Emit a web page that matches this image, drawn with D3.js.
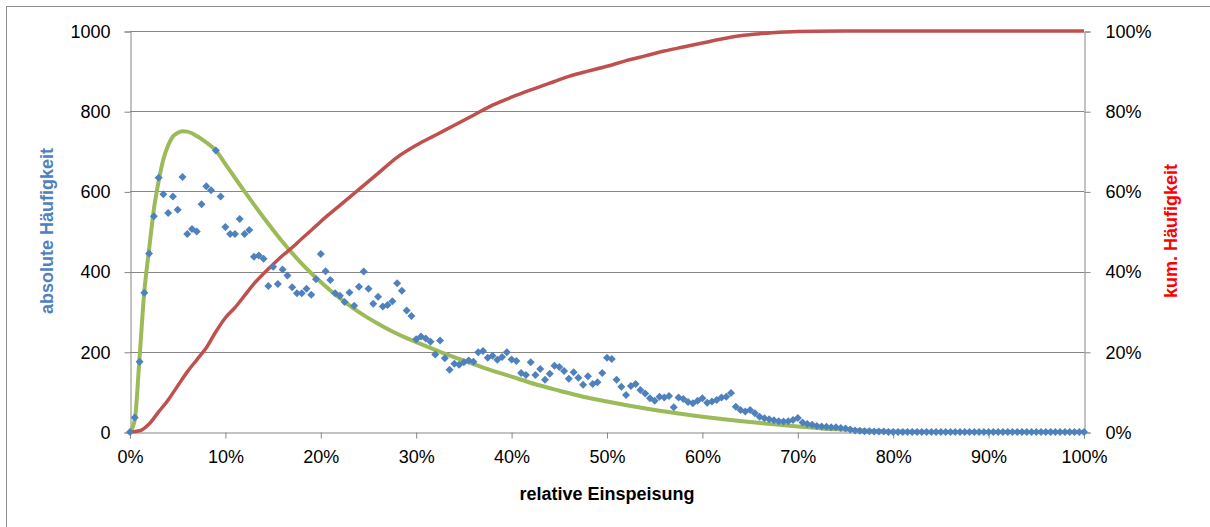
<!doctype html>
<html lang="de">
<head>
  <meta charset="UTF-8">
  <title>relative Einspeisung</title>
  <script src="https://cdn.jsdelivr.net/npm/d3@7"></script>
  <style>
    body { margin: 0; background: #fff; }
    text { font-family: "Liberation Sans", Arial, sans-serif; }
  </style>
</head>
<body>
<div id="container"></div>
<script type="text/javascript">
// scatter: absolute counts, one value per 0.5% step of relative feed-in (0% .. 100%)
var scatterStep = 0.5;
var absCounts = [
  0, 36, 175, 347, 445, 538, 634, 593, 546, 587,
  554, 636, 494, 506, 500, 568, 613, 603, 702, 587,
  511, 494, 494, 531, 494, 504, 437, 440, 432, 364,
  412, 369, 405, 390, 361, 346, 346, 357, 342, 381,
  444, 401, 379, 346, 340, 324, 348, 315, 362, 400,
  357, 320, 337, 313, 317, 326, 371, 352, 303, 289,
  231, 238, 233, 225, 193, 228, 184, 155, 170, 168,
  174, 178, 175, 199, 202, 185, 190, 180, 187, 199,
  181, 177, 147, 142, 174, 142, 157, 130, 145, 165,
  162, 152, 133, 149, 135, 118, 139, 120, 124, 147,
  185, 182, 130, 113, 92, 115, 120, 105, 96, 84,
  78, 88, 86, 90, 62, 86, 82, 75, 72, 78,
  84, 73, 76, 80, 86, 88, 97, 63, 55, 51,
  55, 47, 38, 34, 32, 29, 27, 26, 27, 30,
  35, 24, 20, 18, 15, 14, 13, 12, 12, 10,
  9, 6, 4, 3, 2, 2, 1, 1, 1, 0,
  0, 0, 0, 0, 0, 0, 0, 0, 0, 0,
  0, 0, 0, 0, 0, 0, 0, 0, 0, 0,
  0, 0, 0, 0, 0, 0, 0, 0, 0, 0,
  0, 0, 0, 0, 0, 0, 0, 0, 0, 0,
  0
];

var fitX = [0, 0.5, 1, 1.5, 2, 2.5, 3, 3.5, 4, 4.5, 5, 5.5, 6, 7, 8, 9, 10, 11, 12, 13, 14, 15, 16, 17, 18, 19, 20,
            21, 22, 23, 24, 25, 26, 27, 28, 29, 30, 32.5, 35, 37.5, 40, 42.5, 45, 47.5, 50, 52.5, 55, 57.5, 60,
            62.5, 65, 67.5, 70, 72.5, 75, 77.5, 80, 85, 90, 100];
var fitY = [0, 30, 185, 350, 455, 555, 625, 680, 715, 737, 746, 750, 749, 738, 722, 702, 668, 634, 600, 567, 535, 504, 474, 446, 420, 396, 374,
            353, 334, 316, 299, 284, 270, 257, 245, 234, 224, 200, 178, 157, 138, 119, 103, 88, 76, 65, 55, 46, 38,
            31, 25, 19, 14, 9, 6, 3, 1, 0, 0, 0];

// cumulative share (red, right axis), in %
var cumX = [0, 1, 2, 3, 4, 5, 6, 7, 8, 9, 10, 11, 12, 13, 14, 15, 16, 17, 18, 19, 20,
            22, 24, 26, 28, 30, 32, 34, 36, 38, 40, 42, 44, 46, 48, 50, 52, 54, 56, 58, 60,
            62, 64, 66, 68, 70, 72, 75, 100];
var cumY = [0, 0.3, 2, 5, 8, 11.5, 15, 18, 21, 25, 28.5, 31, 34, 37, 39.5, 41.8, 44, 46, 48.2, 50.3, 52.5,
            56.5, 60.5, 64.5, 68.5, 71.5, 74, 76.5, 79, 81.5, 83.5, 85.3, 87, 88.7, 90, 91.2, 92.6, 93.8, 95, 96, 97,
            98, 98.8, 99.3, 99.7, 99.85, 99.95, 100, 100];

var leftTicks = [0, 200, 400, 600, 800, 1000];
var rightTicks = [0, 20, 40, 60, 80, 100];
var xTicks = [0, 10, 20, 30, 40, 50, 60, 70, 80, 90, 100];

var W = 1210, H = 527;
var plot = { left: 130, right: 1084, top: 31, bottom: 432 };

var svg = d3.select('#container').append('svg')
  .attr('width', W)
  .attr('height', H);

svg.append('rect')
  .attr('x', 6.5).attr('y', 6.5)
  .attr('width', W).attr('height', H)
  .attr('fill', 'none')
  .attr('stroke', '#8c8c8c')
  .attr('stroke-width', 1);

var x = d3.scaleLinear().domain([0, 100]).range([plot.left, plot.right]);
var yL = d3.scaleLinear().domain([0, 1000]).range([plot.bottom, plot.top]);
var yR = d3.scaleLinear().domain([0, 100]).range([plot.bottom, plot.top]);

var gridColor = '#868686';

// gridlines
svg.append('g').selectAll('line').data(leftTicks.slice(1)).enter()
  .append('line')
  .attr('x1', plot.left).attr('x2', plot.right)
  .attr('y1', function(d) { return Math.round(yL(d)) + 0.5; })
  .attr('y2', function(d) { return Math.round(yL(d)) + 0.5; })
  .attr('stroke', gridColor);

// axes
var axisLeft = d3.axisLeft(yL).tickValues(leftTicks).tickSize(6).tickPadding(14)
  .tickFormat(d3.format('d'));
var axisRight = d3.axisRight(yR).tickValues(rightTicks).tickSize(6).tickPadding(15)
  .tickFormat(function(d) { return d + '%'; });
var axisBottom = d3.axisBottom(x).tickValues(xTicks).tickSize(6).tickPadding(12)
  .tickFormat(function(d) { return d + '%'; });

function styleAxis(g) {
  g.select('.domain').attr('stroke', gridColor);
  g.selectAll('.tick line').attr('stroke', gridColor);
  g.selectAll('.tick text')
    .attr('fill', '#000')
    .style('font-size', '18px')
    .style('font-family', '"Liberation Sans", Arial, sans-serif');
}

svg.append('g').attr('transform', 'translate(' + (plot.left + 0.5) + ',0.5)')
  .call(axisLeft).call(styleAxis);
svg.append('g').attr('transform', 'translate(' + (plot.right + 0.5) + ',0.5)')
  .call(axisRight).call(styleAxis);
svg.append('g').attr('transform', 'translate(0,' + (plot.bottom + 0.5) + ')')
  .call(axisBottom).call(styleAxis);

// fitted curve
var fitLine = d3.line()
  .x(function(d) { return x(d[0]); })
  .y(function(d) { return yL(d[1]); })
  .curve(d3.curveMonotoneX);

svg.append('path')
  .datum(d3.zip(fitX, fitY))
  .attr('d', fitLine)
  .attr('fill', 'none')
  .attr('stroke', '#9bbb59')
  .attr('stroke-width', 4)
  .attr('stroke-linejoin', 'round');

// cumulative curve
var cumLine = d3.line()
  .x(function(d) { return x(d[0]); })
  .y(function(d) { return yR(d[1]); })
  .curve(d3.curveMonotoneX);

svg.append('path')
  .datum(d3.zip(cumX, cumY))
  .attr('d', cumLine)
  .attr('fill', 'none')
  .attr('stroke', '#c0504d')
  .attr('stroke-width', 3.5)
  .attr('stroke-linejoin', 'round');

// scatter diamonds (square turned by 45deg)
var diamond = d3.symbol().type(d3.symbolSquare).size(32);
svg.append('g').selectAll('path').data(absCounts).enter()
  .append('path')
  .attr('d', diamond)
  .attr('transform', function(d, i) {
    return 'translate(' + x(i * scatterStep) + ',' + yL(d) + ') rotate(45)';
  })
  .attr('fill', '#4f81bd');

// axis titles
svg.append('text')
  .attr('transform', 'translate(53,231) rotate(-90)')
  .attr('text-anchor', 'middle')
  .style('font-size', '18px')
  .style('font-weight', 'bold')
  .attr('fill', '#4f81bd')
  .text('absolute Häufigkeit');

svg.append('text')
  .attr('transform', 'translate(1177,231) rotate(-90)')
  .attr('text-anchor', 'middle')
  .style('font-size', '18px')
  .style('font-weight', 'bold')
  .attr('fill', '#ff0000')
  .text('kum. Häufigkeit');

svg.append('text')
  .attr('x', 607).attr('y', 500)
  .attr('text-anchor', 'middle')
  .style('font-size', '18px')
  .style('font-weight', 'bold')
  .attr('fill', '#000')
  .text('relative Einspeisung');
</script>
</body>
</html>
